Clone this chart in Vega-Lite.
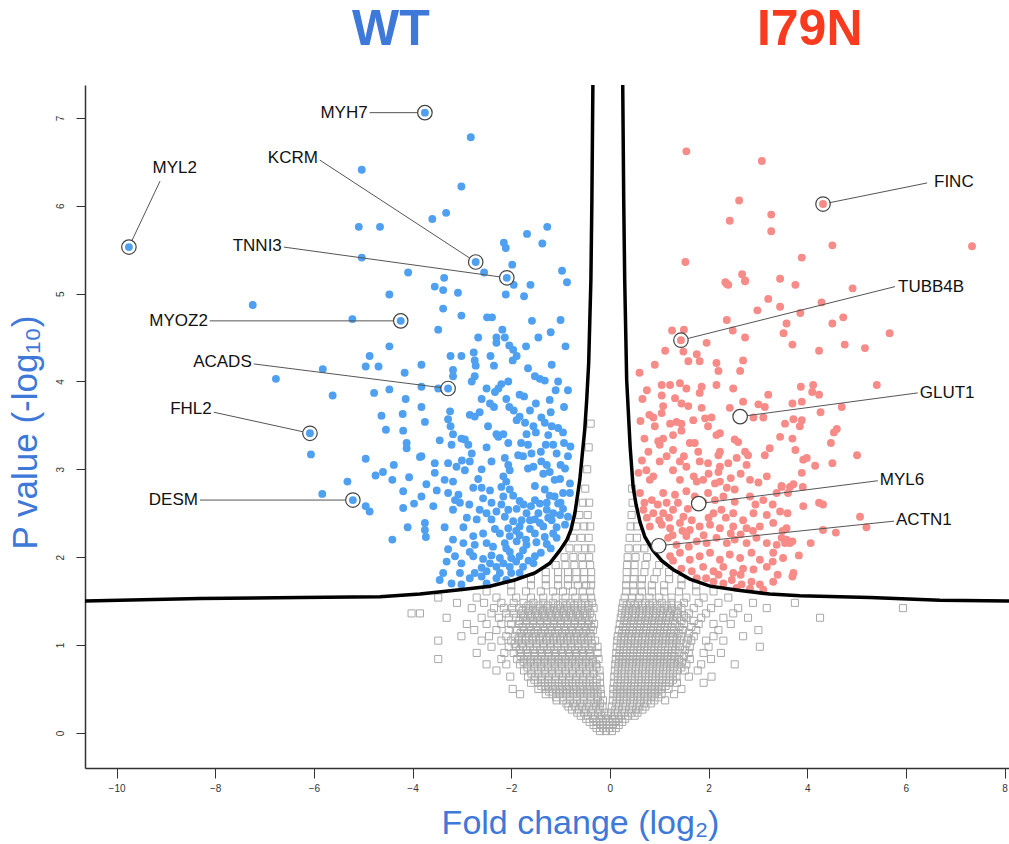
{
"$schema":"https://vega.github.io/schema/vega-lite/v6.json",
"width":924,"height":683,
"autosize":{"type":"none"},
"padding":{"left":85,"top":85,"right":0,"bottom":76},
"background":"white",
"config":{"view":{"stroke":null},"font":"Liberation Sans"},
"datasets":{
"ns":[
{"x":-0.2,"y":0.02},{"x":-0.08,"y":0.02},{"x":0.04,"y":0.02},
{"x":-0.33,"y":0.09},{"x":-0.2,"y":0.09},{"x":-0.07,"y":0.09},{"x":0.06,"y":0.09},{"x":0.18,"y":0.09},
{"x":-0.48,"y":0.16},{"x":-0.34,"y":0.16},{"x":-0.21,"y":0.16},{"x":-0.08,"y":0.16},{"x":0.05,"y":0.16},{"x":0.18,"y":0.16},{"x":0.31,"y":0.16},
{"x":-0.66,"y":0.23},{"x":-0.52,"y":0.23},{"x":-0.38,"y":0.23},{"x":-0.24,"y":0.23},{"x":-0.11,"y":0.23},{"x":0.02,"y":0.23},{"x":0.16,"y":0.23},{"x":0.3,"y":0.23},{"x":0.44,"y":0.23},{"x":0.56,"y":0.23},
{"x":-0.84,"y":0.3},{"x":-0.7,"y":0.3},{"x":-0.56,"y":0.3},{"x":-0.42,"y":0.3},{"x":-0.28,"y":0.3},{"x":-0.15,"y":0.3},{"x":0.04,"y":0.3},{"x":0.18,"y":0.3},{"x":0.32,"y":0.3},{"x":0.46,"y":0.3},{"x":0.6,"y":0.3},{"x":0.72,"y":0.3},
{"x":-1.08,"y":0.37},{"x":-0.95,"y":0.37},{"x":-0.81,"y":0.37},{"x":-0.67,"y":0.37},{"x":-0.53,"y":0.37},{"x":-0.39,"y":0.37},{"x":-0.25,"y":0.37},{"x":-0.14,"y":0.37},{"x":0.06,"y":0.37},{"x":0.2,"y":0.37},{"x":0.34,"y":0.37},{"x":0.48,"y":0.37},{"x":0.62,"y":0.37},{"x":0.76,"y":0.37},{"x":0.9,"y":0.37},{"x":1.12,"y":0.37},
{"x":-1.82,"y":0.44},{"x":-1.3,"y":0.44},{"x":-1.16,"y":0.44},{"x":-1.02,"y":0.44},{"x":-0.88,"y":0.44},{"x":-0.74,"y":0.44},{"x":-0.6,"y":0.44},{"x":-0.46,"y":0.44},{"x":-0.32,"y":0.44},{"x":-0.18,"y":0.44},{"x":0.07,"y":0.44},{"x":0.21,"y":0.44},{"x":0.35,"y":0.44},{"x":0.49,"y":0.44},{"x":0.63,"y":0.44},{"x":0.77,"y":0.44},{"x":0.91,"y":0.44},{"x":1.05,"y":0.44},{"x":1.3,"y":0.44},
{"x":-1.97,"y":0.5},{"x":-1.45,"y":0.5},{"x":-1.3,"y":0.5},{"x":-1.16,"y":0.5},{"x":-1.02,"y":0.5},{"x":-0.88,"y":0.5},{"x":-0.74,"y":0.5},{"x":-0.6,"y":0.5},{"x":-0.46,"y":0.5},{"x":-0.32,"y":0.5},{"x":-0.19,"y":0.5},{"x":0.07,"y":0.5},{"x":0.21,"y":0.5},{"x":0.35,"y":0.5},{"x":0.49,"y":0.5},{"x":0.63,"y":0.5},{"x":0.77,"y":0.5},{"x":0.91,"y":0.5},{"x":1.05,"y":0.5},{"x":1.19,"y":0.5},{"x":1.45,"y":0.5},
{"x":-1.6,"y":0.57},{"x":-1.46,"y":0.57},{"x":-1.32,"y":0.57},{"x":-1.18,"y":0.57},{"x":-1.04,"y":0.57},{"x":-0.9,"y":0.57},{"x":-0.76,"y":0.57},{"x":-0.62,"y":0.57},{"x":-0.48,"y":0.57},{"x":-0.34,"y":0.57},{"x":-0.2,"y":0.57},{"x":0.08,"y":0.57},{"x":0.22,"y":0.57},{"x":0.36,"y":0.57},{"x":0.5,"y":0.57},{"x":0.64,"y":0.57},{"x":0.78,"y":0.57},{"x":0.92,"y":0.57},{"x":1.06,"y":0.57},{"x":1.2,"y":0.57},{"x":1.36,"y":0.57},{"x":1.9,"y":0.57},
{"x":-2.02,"y":0.64},{"x":-1.66,"y":0.64},{"x":-1.52,"y":0.64},{"x":-1.38,"y":0.64},{"x":-1.24,"y":0.64},{"x":-1.1,"y":0.64},{"x":-0.96,"y":0.64},{"x":-0.82,"y":0.64},{"x":-0.68,"y":0.64},{"x":-0.54,"y":0.64},{"x":-0.4,"y":0.64},{"x":-0.2,"y":0.64},{"x":0.09,"y":0.64},{"x":0.23,"y":0.64},{"x":0.37,"y":0.64},{"x":0.51,"y":0.64},{"x":0.65,"y":0.64},{"x":0.79,"y":0.64},{"x":0.93,"y":0.64},{"x":1.07,"y":0.64},{"x":1.21,"y":0.64},{"x":1.35,"y":0.64},{"x":1.6,"y":0.64},{"x":2.06,"y":0.64},
{"x":-2.3,"y":0.71},{"x":-1.74,"y":0.71},{"x":-1.6,"y":0.71},{"x":-1.46,"y":0.71},{"x":-1.32,"y":0.71},{"x":-1.18,"y":0.71},{"x":-1.04,"y":0.71},{"x":-0.9,"y":0.71},{"x":-0.76,"y":0.71},{"x":-0.62,"y":0.71},{"x":-0.48,"y":0.71},{"x":-0.34,"y":0.71},{"x":-0.21,"y":0.71},{"x":0.1,"y":0.71},{"x":0.24,"y":0.71},{"x":0.38,"y":0.71},{"x":0.52,"y":0.71},{"x":0.66,"y":0.71},{"x":0.8,"y":0.71},{"x":0.94,"y":0.71},{"x":1.08,"y":0.71},{"x":1.22,"y":0.71},{"x":1.36,"y":0.71},{"x":1.52,"y":0.71},{"x":1.78,"y":0.71},
{"x":-2.5,"y":0.78},{"x":-2.1,"y":0.78},{"x":-1.82,"y":0.78},{"x":-1.68,"y":0.78},{"x":-1.54,"y":0.78},{"x":-1.4,"y":0.78},{"x":-1.26,"y":0.78},{"x":-1.12,"y":0.78},{"x":-0.98,"y":0.78},{"x":-0.84,"y":0.78},{"x":-0.7,"y":0.78},{"x":-0.56,"y":0.78},{"x":-0.42,"y":0.78},{"x":-0.28,"y":0.78},{"x":0.11,"y":0.78},{"x":0.25,"y":0.78},{"x":0.39,"y":0.78},{"x":0.53,"y":0.78},{"x":0.67,"y":0.78},{"x":0.81,"y":0.78},{"x":0.95,"y":0.78},{"x":1.09,"y":0.78},{"x":1.23,"y":0.78},{"x":1.37,"y":0.78},{"x":1.55,"y":0.78},{"x":1.85,"y":0.78},{"x":2.53,"y":0.78},
{"x":-3.48,"y":0.84},{"x":-2.2,"y":0.84},{"x":-1.88,"y":0.84},{"x":-1.74,"y":0.84},{"x":-1.6,"y":0.84},{"x":-1.46,"y":0.84},{"x":-1.32,"y":0.84},{"x":-1.18,"y":0.84},{"x":-1.04,"y":0.84},{"x":-0.9,"y":0.84},{"x":-0.76,"y":0.84},{"x":-0.62,"y":0.84},{"x":-0.48,"y":0.84},{"x":-0.34,"y":0.84},{"x":-0.23,"y":0.84},{"x":0.12,"y":0.84},{"x":0.26,"y":0.84},{"x":0.4,"y":0.84},{"x":0.54,"y":0.84},{"x":0.68,"y":0.84},{"x":0.82,"y":0.84},{"x":0.96,"y":0.84},{"x":1.1,"y":0.84},{"x":1.24,"y":0.84},{"x":1.4,"y":0.84},{"x":1.62,"y":0.84},{"x":2.05,"y":0.84},
{"x":-2.7,"y":0.91},{"x":-2.14,"y":0.91},{"x":-1.95,"y":0.91},{"x":-1.8,"y":0.91},{"x":-1.66,"y":0.91},{"x":-1.52,"y":0.91},{"x":-1.38,"y":0.91},{"x":-1.24,"y":0.91},{"x":-1.1,"y":0.91},{"x":-0.96,"y":0.91},{"x":-0.82,"y":0.91},{"x":-0.68,"y":0.91},{"x":-0.54,"y":0.91},{"x":-0.4,"y":0.91},{"x":-0.25,"y":0.91},{"x":0.13,"y":0.91},{"x":0.27,"y":0.91},{"x":0.41,"y":0.91},{"x":0.55,"y":0.91},{"x":0.69,"y":0.91},{"x":0.83,"y":0.91},{"x":0.97,"y":0.91},{"x":1.11,"y":0.91},{"x":1.25,"y":0.91},{"x":1.41,"y":0.91},{"x":1.6,"y":0.91},{"x":1.9,"y":0.91},{"x":2.25,"y":0.91},
{"x":-2.4,"y":0.98},{"x":-2.05,"y":0.98},{"x":-1.9,"y":0.98},{"x":-1.76,"y":0.98},{"x":-1.62,"y":0.98},{"x":-1.48,"y":0.98},{"x":-1.34,"y":0.98},{"x":-1.2,"y":0.98},{"x":-1.06,"y":0.98},{"x":-0.92,"y":0.98},{"x":-0.78,"y":0.98},{"x":-0.64,"y":0.98},{"x":-0.5,"y":0.98},{"x":-0.36,"y":0.98},{"x":-0.25,"y":0.98},{"x":0.14,"y":0.98},{"x":0.28,"y":0.98},{"x":0.42,"y":0.98},{"x":0.56,"y":0.98},{"x":0.7,"y":0.98},{"x":0.84,"y":0.98},{"x":0.98,"y":0.98},{"x":1.12,"y":0.98},{"x":1.26,"y":0.98},{"x":1.42,"y":0.98},{"x":1.62,"y":0.98},{"x":2.0,"y":0.98},{"x":3.04,"y":0.98},
{"x":-3.48,"y":1.05},{"x":-2.6,"y":1.05},{"x":-2.2,"y":1.05},{"x":-2.0,"y":1.05},{"x":-1.85,"y":1.05},{"x":-1.7,"y":1.05},{"x":-1.56,"y":1.05},{"x":-1.42,"y":1.05},{"x":-1.28,"y":1.05},{"x":-1.14,"y":1.05},{"x":-1.0,"y":1.05},{"x":-0.86,"y":1.05},{"x":-0.72,"y":1.05},{"x":-0.58,"y":1.05},{"x":-0.44,"y":1.05},{"x":-0.3,"y":1.05},{"x":0.15,"y":1.05},{"x":0.29,"y":1.05},{"x":0.43,"y":1.05},{"x":0.57,"y":1.05},{"x":0.71,"y":1.05},{"x":0.85,"y":1.05},{"x":0.99,"y":1.05},{"x":1.13,"y":1.05},{"x":1.27,"y":1.05},{"x":1.43,"y":1.05},{"x":1.65,"y":1.05},{"x":1.95,"y":1.05},{"x":2.3,"y":1.05},
{"x":-3.01,"y":1.1},{"x":-2.45,"y":1.1},{"x":-2.1,"y":1.1},{"x":-1.92,"y":1.1},{"x":-1.78,"y":1.1},{"x":-1.64,"y":1.1},{"x":-1.5,"y":1.1},{"x":-1.36,"y":1.1},{"x":-1.22,"y":1.1},{"x":-1.08,"y":1.1},{"x":-0.94,"y":1.1},{"x":-0.8,"y":1.1},{"x":-0.66,"y":1.1},{"x":-0.52,"y":1.1},{"x":-0.38,"y":1.1},{"x":0.16,"y":1.1},{"x":0.3,"y":1.1},{"x":0.44,"y":1.1},{"x":0.58,"y":1.1},{"x":0.72,"y":1.1},{"x":0.86,"y":1.1},{"x":1.0,"y":1.1},{"x":1.14,"y":1.1},{"x":1.28,"y":1.1},{"x":1.45,"y":1.1},{"x":1.7,"y":1.1},{"x":2.1,"y":1.1},{"x":2.7,"y":1.1},
{"x":-2.75,"y":1.17},{"x":-2.3,"y":1.17},{"x":-2.05,"y":1.17},{"x":-1.88,"y":1.17},{"x":-1.74,"y":1.17},{"x":-1.6,"y":1.17},{"x":-1.46,"y":1.17},{"x":-1.32,"y":1.17},{"x":-1.18,"y":1.17},{"x":-1.04,"y":1.17},{"x":-0.9,"y":1.17},{"x":-0.76,"y":1.17},{"x":-0.62,"y":1.17},{"x":-0.48,"y":1.17},{"x":-0.34,"y":1.17},{"x":0.18,"y":1.17},{"x":0.32,"y":1.17},{"x":0.46,"y":1.17},{"x":0.6,"y":1.17},{"x":0.74,"y":1.17},{"x":0.88,"y":1.17},{"x":1.02,"y":1.17},{"x":1.16,"y":1.17},{"x":1.3,"y":1.17},{"x":1.48,"y":1.17},{"x":1.75,"y":1.17},{"x":2.2,"y":1.17},{"x":3.01,"y":1.17},
{"x":-2.9,"y":1.24},{"x":-2.5,"y":1.24},{"x":-2.2,"y":1.24},{"x":-2.0,"y":1.24},{"x":-1.84,"y":1.24},{"x":-1.7,"y":1.24},{"x":-1.56,"y":1.24},{"x":-1.42,"y":1.24},{"x":-1.28,"y":1.24},{"x":-1.14,"y":1.24},{"x":-1.0,"y":1.24},{"x":-0.86,"y":1.24},{"x":-0.72,"y":1.24},{"x":-0.58,"y":1.24},{"x":-0.44,"y":1.24},{"x":-0.32,"y":1.24},{"x":0.2,"y":1.24},{"x":0.34,"y":1.24},{"x":0.48,"y":1.24},{"x":0.62,"y":1.24},{"x":0.76,"y":1.24},{"x":0.9,"y":1.24},{"x":1.04,"y":1.24},{"x":1.18,"y":1.24},{"x":1.32,"y":1.24},{"x":1.5,"y":1.24},{"x":1.8,"y":1.24},{"x":2.1,"y":1.24},{"x":2.45,"y":1.24},
{"x":-3.31,"y":1.31},{"x":-2.6,"y":1.31},{"x":-2.25,"y":1.31},{"x":-2.05,"y":1.31},{"x":-1.9,"y":1.31},{"x":-1.76,"y":1.31},{"x":-1.62,"y":1.31},{"x":-1.48,"y":1.31},{"x":-1.34,"y":1.31},{"x":-1.2,"y":1.31},{"x":-1.06,"y":1.31},{"x":-0.92,"y":1.31},{"x":-0.78,"y":1.31},{"x":-0.64,"y":1.31},{"x":-0.5,"y":1.31},{"x":-0.36,"y":1.31},{"x":0.22,"y":1.31},{"x":0.36,"y":1.31},{"x":0.5,"y":1.31},{"x":0.64,"y":1.31},{"x":0.78,"y":1.31},{"x":0.92,"y":1.31},{"x":1.06,"y":1.31},{"x":1.2,"y":1.31},{"x":1.36,"y":1.31},{"x":1.55,"y":1.31},{"x":1.85,"y":1.31},{"x":2.3,"y":1.31},{"x":2.8,"y":1.31},{"x":4.26,"y":1.31},
{"x":-4.02,"y":1.36},{"x":-3.85,"y":1.36},{"x":-2.4,"y":1.36},{"x":-2.1,"y":1.36},{"x":-1.95,"y":1.36},{"x":-1.8,"y":1.36},{"x":-1.66,"y":1.36},{"x":-1.52,"y":1.36},{"x":-1.38,"y":1.36},{"x":-1.24,"y":1.36},{"x":-1.1,"y":1.36},{"x":-0.96,"y":1.36},{"x":-0.82,"y":1.36},{"x":-0.68,"y":1.36},{"x":-0.54,"y":1.36},{"x":-0.4,"y":1.36},{"x":0.24,"y":1.36},{"x":0.38,"y":1.36},{"x":0.52,"y":1.36},{"x":0.66,"y":1.36},{"x":0.8,"y":1.36},{"x":0.94,"y":1.36},{"x":1.08,"y":1.36},{"x":1.22,"y":1.36},{"x":1.38,"y":1.36},{"x":1.6,"y":1.36},{"x":1.95,"y":1.36},{"x":2.5,"y":1.36},
{"x":-2.8,"y":1.42},{"x":-2.35,"y":1.42},{"x":-2.15,"y":1.42},{"x":-1.98,"y":1.42},{"x":-1.84,"y":1.42},{"x":-1.7,"y":1.42},{"x":-1.56,"y":1.42},{"x":-1.42,"y":1.42},{"x":-1.28,"y":1.42},{"x":-1.14,"y":1.42},{"x":-1.0,"y":1.42},{"x":-0.86,"y":1.42},{"x":-0.72,"y":1.42},{"x":-0.58,"y":1.42},{"x":-0.44,"y":1.42},{"x":-0.33,"y":1.42},{"x":0.25,"y":1.42},{"x":0.39,"y":1.42},{"x":0.53,"y":1.42},{"x":0.67,"y":1.42},{"x":0.81,"y":1.42},{"x":0.95,"y":1.42},{"x":1.1,"y":1.42},{"x":1.26,"y":1.42},{"x":1.45,"y":1.42},{"x":1.7,"y":1.42},{"x":2.05,"y":1.42},{"x":2.6,"y":1.42},{"x":3.18,"y":1.42},{"x":5.94,"y":1.42},
{"x":-3.1,"y":1.48},{"x":-2.55,"y":1.48},{"x":-2.2,"y":1.48},{"x":-1.95,"y":1.48},{"x":-1.75,"y":1.48},{"x":-1.55,"y":1.48},{"x":-1.35,"y":1.48},{"x":-1.15,"y":1.48},{"x":-0.95,"y":1.48},{"x":-0.8,"y":1.48},{"x":-0.65,"y":1.48},{"x":-0.5,"y":1.48},{"x":-0.36,"y":1.48},{"x":0.27,"y":1.48},{"x":0.42,"y":1.48},{"x":0.57,"y":1.48},{"x":0.72,"y":1.48},{"x":0.87,"y":1.48},{"x":1.05,"y":1.48},{"x":1.25,"y":1.48},{"x":1.5,"y":1.48},{"x":1.8,"y":1.48},{"x":2.2,"y":1.48},{"x":2.9,"y":1.48},{"x":3.75,"y":1.48},
{"x":-3.48,"y":1.54},{"x":-2.7,"y":1.54},{"x":-2.3,"y":1.54},{"x":-1.9,"y":1.54},{"x":-1.6,"y":1.54},{"x":-1.35,"y":1.54},{"x":-1.1,"y":1.54},{"x":-0.9,"y":1.54},{"x":-0.7,"y":1.54},{"x":-0.52,"y":1.54},{"x":-0.38,"y":1.54},{"x":0.3,"y":1.54},{"x":0.45,"y":1.54},{"x":0.6,"y":1.54},{"x":0.8,"y":1.54},{"x":1.0,"y":1.54},{"x":1.25,"y":1.54},{"x":1.55,"y":1.54},{"x":1.9,"y":1.54},{"x":2.4,"y":1.54},
{"x":-2.5,"y":1.61},{"x":-2.0,"y":1.61},{"x":-1.7,"y":1.61},{"x":-1.4,"y":1.61},{"x":-1.15,"y":1.61},{"x":-0.95,"y":1.61},{"x":-0.75,"y":1.61},{"x":-0.55,"y":1.61},{"x":-0.4,"y":1.61},{"x":0.33,"y":1.61},{"x":0.48,"y":1.61},{"x":0.65,"y":1.61},{"x":0.85,"y":1.61},{"x":1.1,"y":1.61},{"x":1.4,"y":1.61},{"x":1.75,"y":1.61},{"x":2.1,"y":1.61},
{"x":-2.0,"y":1.68},{"x":-1.6,"y":1.68},{"x":-1.3,"y":1.68},{"x":-1.05,"y":1.68},{"x":-0.85,"y":1.68},{"x":-0.65,"y":1.68},{"x":-0.48,"y":1.68},{"x":-0.38,"y":1.68},{"x":0.33,"y":1.68},{"x":0.47,"y":1.68},{"x":0.64,"y":1.68},{"x":0.85,"y":1.68},{"x":1.1,"y":1.68},{"x":1.45,"y":1.68},{"x":1.75,"y":1.68},
{"x":-1.6,"y":1.75},{"x":-1.3,"y":1.75},{"x":-1.05,"y":1.75},{"x":-0.85,"y":1.75},{"x":-0.68,"y":1.75},{"x":-0.52,"y":1.75},{"x":-0.38,"y":1.75},{"x":0.34,"y":1.75},{"x":0.48,"y":1.75},{"x":0.65,"y":1.75},{"x":0.9,"y":1.75},{"x":1.2,"y":1.75},{"x":1.45,"y":1.75},
{"x":-1.3,"y":1.83},{"x":-1.05,"y":1.83},{"x":-0.85,"y":1.83},{"x":-0.68,"y":1.83},{"x":-0.52,"y":1.83},{"x":-0.38,"y":1.83},{"x":0.34,"y":1.83},{"x":0.5,"y":1.83},{"x":0.7,"y":1.83},{"x":0.95,"y":1.83},{"x":1.2,"y":1.83},
{"x":-1.1,"y":1.91},{"x":-0.9,"y":1.91},{"x":-0.72,"y":1.91},{"x":-0.55,"y":1.91},{"x":-0.4,"y":1.91},{"x":0.35,"y":1.91},{"x":0.5,"y":1.91},{"x":0.72,"y":1.91},{"x":1.0,"y":1.91},
{"x":-0.92,"y":2.0},{"x":-0.74,"y":2.0},{"x":-0.57,"y":2.0},{"x":-0.42,"y":2.0},{"x":0.36,"y":2.0},{"x":0.52,"y":2.0},{"x":0.75,"y":2.0},
{"x":-0.82,"y":2.1},{"x":-0.65,"y":2.1},{"x":-0.5,"y":2.1},{"x":-0.38,"y":2.1},{"x":0.38,"y":2.1},{"x":0.55,"y":2.1},{"x":0.7,"y":2.1},
{"x":-0.75,"y":2.22},{"x":-0.58,"y":2.22},{"x":-0.43,"y":2.22},{"x":0.4,"y":2.22},{"x":0.55,"y":2.22},
{"x":-0.68,"y":2.35},{"x":-0.52,"y":2.35},{"x":-0.4,"y":2.35},{"x":0.42,"y":2.35},{"x":0.55,"y":2.35},
{"x":-0.62,"y":2.48},{"x":-0.45,"y":2.48},{"x":0.44,"y":2.48},
{"x":-0.55,"y":2.62},{"x":-0.42,"y":2.62},{"x":0.46,"y":2.62},
{"x":-0.5,"y":2.78},{"x":0.45,"y":2.78},
{"x":-0.46,"y":3.0},{"x":-0.43,"y":3.25},{"x":-0.39,"y":3.52},
{"x":-0.27,"y":0.055},{"x":-0.14,"y":0.055},{"x":-0.01,"y":0.055},{"x":0.12,"y":0.055},
{"x":-0.41,"y":0.125},{"x":-0.27,"y":0.125},{"x":-0.14,"y":0.125},{"x":-0.01,"y":0.125},{"x":0.12,"y":0.125},{"x":0.25,"y":0.125},
{"x":-0.59,"y":0.195},{"x":-0.45,"y":0.195},{"x":-0.31,"y":0.195},{"x":-0.17,"y":0.195},{"x":-0.04,"y":0.195},{"x":0.09,"y":0.195},{"x":0.23,"y":0.195},{"x":0.37,"y":0.195},{"x":0.5,"y":0.195},
{"x":-0.77,"y":0.265},{"x":-0.63,"y":0.265},{"x":-0.49,"y":0.265},{"x":-0.35,"y":0.265},{"x":-0.21,"y":0.265},{"x":0.11,"y":0.265},{"x":0.25,"y":0.265},{"x":0.39,"y":0.265},{"x":0.53,"y":0.265},{"x":0.66,"y":0.265},
{"x":-0.88,"y":0.335},{"x":-0.74,"y":0.335},{"x":-0.6,"y":0.335},{"x":-0.46,"y":0.335},{"x":-0.32,"y":0.335},{"x":-0.2,"y":0.335},{"x":0.13,"y":0.335},{"x":0.27,"y":0.335},{"x":0.41,"y":0.335},{"x":0.55,"y":0.335},{"x":0.69,"y":0.335},{"x":0.83,"y":0.335},
{"x":-1.09,"y":0.405},{"x":-0.95,"y":0.405},{"x":-0.81,"y":0.405},{"x":-0.67,"y":0.405},{"x":-0.53,"y":0.405},{"x":-0.39,"y":0.405},{"x":-0.25,"y":0.405},{"x":0.14,"y":0.405},{"x":0.28,"y":0.405},{"x":0.42,"y":0.405},{"x":0.56,"y":0.405},{"x":0.7,"y":0.405},{"x":0.84,"y":0.405},{"x":0.98,"y":0.405},
{"x":-1.23,"y":0.47},{"x":-1.09,"y":0.47},{"x":-0.95,"y":0.47},{"x":-0.81,"y":0.47},{"x":-0.67,"y":0.47},{"x":-0.53,"y":0.47},{"x":-0.39,"y":0.47},{"x":-0.25,"y":0.47},{"x":0.14,"y":0.47},{"x":0.28,"y":0.47},{"x":0.42,"y":0.47},{"x":0.56,"y":0.47},{"x":0.7,"y":0.47},{"x":0.84,"y":0.47},{"x":0.98,"y":0.47},
{"x":-1.39,"y":0.535},{"x":-1.25,"y":0.535},{"x":-1.11,"y":0.535},{"x":-0.97,"y":0.535},{"x":-0.83,"y":0.535},{"x":-0.69,"y":0.535},{"x":-0.55,"y":0.535},{"x":-0.41,"y":0.535},{"x":-0.27,"y":0.535},{"x":0.15,"y":0.535},{"x":0.29,"y":0.535},{"x":0.43,"y":0.535},{"x":0.57,"y":0.535},{"x":0.71,"y":0.535},{"x":0.85,"y":0.535},{"x":0.99,"y":0.535},{"x":1.13,"y":0.535},
{"x":-1.53,"y":0.605},{"x":-1.39,"y":0.605},{"x":-1.25,"y":0.605},{"x":-1.11,"y":0.605},{"x":-0.97,"y":0.605},{"x":-0.83,"y":0.605},{"x":-0.69,"y":0.605},{"x":-0.55,"y":0.605},{"x":-0.41,"y":0.605},{"x":-0.27,"y":0.605},{"x":0.16,"y":0.605},{"x":0.3,"y":0.605},{"x":0.44,"y":0.605},{"x":0.58,"y":0.605},{"x":0.72,"y":0.605},{"x":0.86,"y":0.605},{"x":1.0,"y":0.605},{"x":1.14,"y":0.605},{"x":1.28,"y":0.605},
{"x":-1.59,"y":0.675},{"x":-1.45,"y":0.675},{"x":-1.31,"y":0.675},{"x":-1.17,"y":0.675},{"x":-1.03,"y":0.675},{"x":-0.89,"y":0.675},{"x":-0.75,"y":0.675},{"x":-0.61,"y":0.675},{"x":-0.47,"y":0.675},{"x":-0.33,"y":0.675},{"x":0.16,"y":0.675},{"x":0.3,"y":0.675},{"x":0.44,"y":0.675},{"x":0.58,"y":0.675},{"x":0.72,"y":0.675},{"x":0.86,"y":0.675},{"x":1.0,"y":0.675},{"x":1.14,"y":0.675},{"x":1.28,"y":0.675},
{"x":-1.67,"y":0.745},{"x":-1.53,"y":0.745},{"x":-1.39,"y":0.745},{"x":-1.25,"y":0.745},{"x":-1.11,"y":0.745},{"x":-0.97,"y":0.745},{"x":-0.83,"y":0.745},{"x":-0.69,"y":0.745},{"x":-0.55,"y":0.745},{"x":-0.41,"y":0.745},{"x":-0.27,"y":0.745},{"x":0.17,"y":0.745},{"x":0.31,"y":0.745},{"x":0.45,"y":0.745},{"x":0.59,"y":0.745},{"x":0.73,"y":0.745},{"x":0.87,"y":0.745},{"x":1.01,"y":0.745},{"x":1.15,"y":0.745},{"x":1.29,"y":0.745},{"x":1.45,"y":0.745},
{"x":-1.75,"y":0.81},{"x":-1.61,"y":0.81},{"x":-1.47,"y":0.81},{"x":-1.33,"y":0.81},{"x":-1.19,"y":0.81},{"x":-1.05,"y":0.81},{"x":-0.91,"y":0.81},{"x":-0.77,"y":0.81},{"x":-0.63,"y":0.81},{"x":-0.49,"y":0.81},{"x":-0.35,"y":0.81},{"x":0.18,"y":0.81},{"x":0.32,"y":0.81},{"x":0.46,"y":0.81},{"x":0.6,"y":0.81},{"x":0.74,"y":0.81},{"x":0.88,"y":0.81},{"x":1.02,"y":0.81},{"x":1.16,"y":0.81},{"x":1.3,"y":0.81},{"x":1.46,"y":0.81},
{"x":-1.81,"y":0.875},{"x":-1.67,"y":0.875},{"x":-1.53,"y":0.875},{"x":-1.39,"y":0.875},{"x":-1.25,"y":0.875},{"x":-1.11,"y":0.875},{"x":-0.97,"y":0.875},{"x":-0.83,"y":0.875},{"x":-0.69,"y":0.875},{"x":-0.55,"y":0.875},{"x":-0.41,"y":0.875},{"x":0.19,"y":0.875},{"x":0.33,"y":0.875},{"x":0.47,"y":0.875},{"x":0.61,"y":0.875},{"x":0.75,"y":0.875},{"x":0.89,"y":0.875},{"x":1.03,"y":0.875},{"x":1.17,"y":0.875},{"x":1.31,"y":0.875},{"x":1.5,"y":0.875},
{"x":-1.83,"y":0.945},{"x":-1.69,"y":0.945},{"x":-1.55,"y":0.945},{"x":-1.41,"y":0.945},{"x":-1.27,"y":0.945},{"x":-1.13,"y":0.945},{"x":-0.99,"y":0.945},{"x":-0.85,"y":0.945},{"x":-0.71,"y":0.945},{"x":-0.57,"y":0.945},{"x":-0.43,"y":0.945},{"x":0.2,"y":0.945},{"x":0.34,"y":0.945},{"x":0.48,"y":0.945},{"x":0.62,"y":0.945},{"x":0.76,"y":0.945},{"x":0.9,"y":0.945},{"x":1.04,"y":0.945},{"x":1.18,"y":0.945},{"x":1.33,"y":0.945},{"x":1.52,"y":0.945},
{"x":-1.93,"y":1.015},{"x":-1.79,"y":1.015},{"x":-1.63,"y":1.015},{"x":-1.49,"y":1.015},{"x":-1.35,"y":1.015},{"x":-1.21,"y":1.015},{"x":-1.07,"y":1.015},{"x":-0.93,"y":1.015},{"x":-0.79,"y":1.015},{"x":-0.65,"y":1.015},{"x":-0.51,"y":1.015},{"x":-0.37,"y":1.015},{"x":0.22,"y":1.015},{"x":0.36,"y":1.015},{"x":0.5,"y":1.015},{"x":0.64,"y":1.015},{"x":0.78,"y":1.015},{"x":0.92,"y":1.015},{"x":1.06,"y":1.015},{"x":1.2,"y":1.015},{"x":1.35,"y":1.015},{"x":1.55,"y":1.015},
{"x":-1.85,"y":1.075},{"x":-1.71,"y":1.075},{"x":-1.57,"y":1.075},{"x":-1.43,"y":1.075},{"x":-1.29,"y":1.075},{"x":-1.15,"y":1.075},{"x":-1.01,"y":1.075},{"x":-0.87,"y":1.075},{"x":-0.73,"y":1.075},{"x":-0.59,"y":1.075},{"x":-0.45,"y":1.075},{"x":0.23,"y":1.075},{"x":0.37,"y":1.075},{"x":0.51,"y":1.075},{"x":0.65,"y":1.075},{"x":0.79,"y":1.075},{"x":0.93,"y":1.075},{"x":1.07,"y":1.075},{"x":1.21,"y":1.075},{"x":1.36,"y":1.075},{"x":1.58,"y":1.075},
{"x":-1.81,"y":1.135},{"x":-1.67,"y":1.135},{"x":-1.53,"y":1.135},{"x":-1.39,"y":1.135},{"x":-1.25,"y":1.135},{"x":-1.11,"y":1.135},{"x":-0.97,"y":1.135},{"x":-0.83,"y":1.135},{"x":-0.69,"y":1.135},{"x":-0.55,"y":1.135},{"x":-0.41,"y":1.135},{"x":0.25,"y":1.135},{"x":0.39,"y":1.135},{"x":0.53,"y":1.135},{"x":0.67,"y":1.135},{"x":0.81,"y":1.135},{"x":0.95,"y":1.135},{"x":1.09,"y":1.135},{"x":1.23,"y":1.135},{"x":1.39,"y":1.135},{"x":1.6,"y":1.135},
{"x":-1.77,"y":1.205},{"x":-1.63,"y":1.205},{"x":-1.49,"y":1.205},{"x":-1.35,"y":1.205},{"x":-1.21,"y":1.205},{"x":-1.07,"y":1.205},{"x":-0.93,"y":1.205},{"x":-0.79,"y":1.205},{"x":-0.65,"y":1.205},{"x":-0.51,"y":1.205},{"x":-0.38,"y":1.205},{"x":0.27,"y":1.205},{"x":0.41,"y":1.205},{"x":0.55,"y":1.205},{"x":0.69,"y":1.205},{"x":0.83,"y":1.205},{"x":0.97,"y":1.205},{"x":1.11,"y":1.205},{"x":1.25,"y":1.205},{"x":1.41,"y":1.205},{"x":1.65,"y":1.205},
{"x":-1.83,"y":1.275},{"x":-1.69,"y":1.275},{"x":-1.55,"y":1.275},{"x":-1.41,"y":1.275},{"x":-1.27,"y":1.275},{"x":-1.13,"y":1.275},{"x":-0.99,"y":1.275},{"x":-0.85,"y":1.275},{"x":-0.71,"y":1.275},{"x":-0.57,"y":1.275},{"x":-0.43,"y":1.275},{"x":0.29,"y":1.275},{"x":0.43,"y":1.275},{"x":0.57,"y":1.275},{"x":0.71,"y":1.275},{"x":0.85,"y":1.275},{"x":0.99,"y":1.275},{"x":1.13,"y":1.275},{"x":1.28,"y":1.275},{"x":1.45,"y":1.275},{"x":1.7,"y":1.275},
{"x":-1.73,"y":1.335},{"x":-1.59,"y":1.335},{"x":-1.45,"y":1.335},{"x":-1.31,"y":1.335},{"x":-1.17,"y":1.335},{"x":-1.03,"y":1.335},{"x":-0.89,"y":1.335},{"x":-0.75,"y":1.335},{"x":-0.61,"y":1.335},{"x":-0.47,"y":1.335},{"x":0.31,"y":1.335},{"x":0.45,"y":1.335},{"x":0.59,"y":1.335},{"x":0.73,"y":1.335},{"x":0.87,"y":1.335},{"x":1.01,"y":1.335},{"x":1.15,"y":1.335},{"x":1.3,"y":1.335},{"x":1.5,"y":1.335},
{"x":-1.77,"y":1.39},{"x":-1.63,"y":1.39},{"x":-1.49,"y":1.39},{"x":-1.35,"y":1.39},{"x":-1.21,"y":1.39},{"x":-1.07,"y":1.39},{"x":-0.93,"y":1.39},{"x":-0.79,"y":1.39},{"x":-0.65,"y":1.39},{"x":-0.51,"y":1.39},{"x":0.32,"y":1.39},{"x":0.46,"y":1.39},{"x":0.6,"y":1.39},{"x":0.74,"y":1.39},{"x":0.88,"y":1.39},{"x":1.02,"y":1.39},{"x":1.18,"y":1.39},{"x":1.35,"y":1.39},
{"x":-1.65,"y":1.45},{"x":-1.45,"y":1.45},{"x":-1.25,"y":1.45},{"x":-1.05,"y":1.45},{"x":-0.88,"y":1.45},{"x":-0.72,"y":1.45},{"x":-0.58,"y":1.45},{"x":-0.43,"y":1.45},{"x":0.34,"y":1.45},{"x":0.5,"y":1.45},{"x":0.65,"y":1.45},{"x":0.8,"y":1.45},{"x":0.96,"y":1.45},{"x":1.15,"y":1.45},{"x":1.38,"y":1.45}
],
"wt":[
{"x":-2.82,"y":6.78},{"x":-5.03,"y":6.41},{"x":-3.01,"y":6.22},{"x":-3.32,"y":5.92},{"x":-3.6,"y":5.85},{"x":-5.09,"y":5.76},{"x":-4.66,"y":5.76},{"x":-1.27,"y":5.76},{"x":-1.68,"y":5.68},{"x":-1.37,"y":5.57},{"x":-2.15,"y":5.58},{"x":-2.11,"y":5.52},{"x":-5.03,"y":5.41},{"x":-1.98,"y":5.33},{"x":-0.97,"y":5.26},{"x":-0.87,"y":5.13},{"x":-4.09,"y":5.24},{"x":-2.55,"y":5.24},{"x":-3.36,"y":5.18},{"x":-1.95,"y":5.1},{"x":-1.61,"y":5.1},{"x":-3.55,"y":5.08},{"x":-3.38,"y":5.04},{"x":-3.08,"y":5.01},{"x":-4.47,"y":4.99},{"x":-2.11,"y":4.99},{"x":-1.74,"y":4.97},{"x":-7.24,"y":4.87},{"x":-3.38,"y":4.83},{"x":-3.01,"y":4.75},{"x":-2.49,"y":4.73},{"x":-2.39,"y":4.73},{"x":-5.22,"y":4.71},{"x":-1.58,"y":4.69},{"x":-3.48,"y":4.59},{"x":-2.18,"y":4.59},{"x":-1.2,"y":4.56},{"x":-2.3,"y":4.5},{"x":-2.67,"y":4.5},{"x":-2.13,"y":4.5},{"x":-1.45,"y":4.5},
{"x":-4.47,"y":4.4},{"x":-4.87,"y":4.29},{"x":-4.95,"y":4.17},{"x":-4.69,"y":4.17},{"x":-3.82,"y":4.19},{"x":-4.16,"y":4.1},{"x":-5.82,"y":4.14},{"x":-6.77,"y":4.03},{"x":-3.82,"y":3.94},{"x":-5.62,"y":3.84},{"x":-4.78,"y":3.87},{"x":-4.47,"y":3.91},{"x":-4.14,"y":3.8},{"x":-3.82,"y":3.71},{"x":-4.63,"y":3.61},{"x":-4.2,"y":3.63},{"x":-3.75,"y":3.54},{"x":-4.54,"y":3.45},{"x":-4.19,"y":3.44},{"x":-4.12,"y":3.3},{"x":-4.12,"y":3.24},{"x":-6.06,"y":3.17},{"x":-4.95,"y":3.12},{"x":-3.85,"y":3.14},{"x":-4.38,"y":3.05},{"x":-4.6,"y":2.97},{"x":-4.75,"y":2.93},{"x":-4.07,"y":2.91},{"x":-4.41,"y":2.88},{"x":-5.32,"y":2.86},{"x":-4.19,"y":2.75},{"x":-5.83,"y":2.72},{"x":-4.95,"y":2.58},{"x":-4.87,"y":2.52},{"x":-4.19,"y":2.56},{"x":-3.97,"y":2.61},{"x":-3.82,"y":2.69},{"x":-4.1,"y":2.34},{"x":-4.41,"y":2.2},{"x":-3.75,"y":2.39},{"x":-3.75,"y":2.31},{"x":-3.73,"y":2.23},
{"x":-2.3,"y":4.44},{"x":-2.04,"y":4.41},{"x":-1.96,"y":4.36},{"x":-2.76,"y":4.33},{"x":-3.23,"y":4.29},{"x":-3.01,"y":4.29},{"x":-2.42,"y":4.29},{"x":-1.89,"y":4.29},{"x":-1.97,"y":4.24},{"x":-2.74,"y":4.24},{"x":-2.72,"y":4.18},{"x":-2.35,"y":4.18},{"x":-1.66,"y":4.15},{"x":-1.18,"y":4.19},{"x":-3.18,"y":4.13},{"x":-3.18,"y":4.06},{"x":-2.74,"y":4.06},{"x":-2.8,"y":4.0},{"x":-1.52,"y":4.06},{"x":-1.42,"y":4.03},{"x":-1.32,"y":4.01},{"x":-2.06,"y":4.0},{"x":-2.2,"y":3.97},{"x":-2.26,"y":3.92},{"x":-2.33,"y":3.88},{"x":-2.5,"y":3.92},{"x":-3.48,"y":3.92},{"x":-1.1,"y":3.9},{"x":-1.83,"y":3.85},{"x":-1.74,"y":3.83},{"x":-1.22,"y":3.79},{"x":-2.43,"y":3.75},{"x":-2.35,"y":3.71},{"x":-0.93,"y":3.71},{"x":-2.04,"y":3.71},{"x":-1.95,"y":3.67},{"x":-1.62,"y":3.67},{"x":-3.24,"y":3.66},{"x":-2.84,"y":3.62},{"x":-2.64,"y":3.65},{"x":-2.74,"y":3.6},{"x":-1.83,"y":3.6},{"x":-3.28,"y":3.57},{"x":-3.23,"y":3.49},{"x":-1.89,"y":3.56},{"x":-1.39,"y":3.59},{"x":-1.72,"y":3.53},{"x":-1.55,"y":3.49},{"x":-1.32,"y":3.53},{"x":-1.18,"y":3.49},{"x":-2.47,"y":3.49},{"x":-3.18,"y":3.4},{"x":-3.01,"y":3.35},{"x":-1.69,"y":3.4},{"x":-1.5,"y":3.42},{"x":-2.3,"y":3.4},{"x":-2.16,"y":3.4},{"x":-1.25,"y":3.39},{"x":-1.05,"y":3.47},{"x":-2.94,"y":3.34},{"x":-3.45,"y":3.33},{"x":-2.87,"y":3.28},{"x":-3.21,"y":3.28},{"x":-2.26,"y":3.37},{"x":-2.06,"y":3.3},{"x":-1.66,"y":3.28},{"x":-1.3,"y":3.28},{"x":-1.15,"y":3.28},{"x":-0.93,"y":3.3},{"x":-0.8,"y":3.26},{"x":-3.82,"y":3.15},{"x":-2.8,"y":3.18},{"x":-2.84,"y":3.09},{"x":-2.4,"y":3.09},{"x":-2.13,"y":3.13},{"x":-1.86,"y":3.16},{"x":-1.76,"y":3.15},{"x":-1.59,"y":3.18},{"x":-1.39,"y":3.09},{"x":-0.85,"y":3.15},{"x":-1.08,"y":3.18},{"x":-3.55,"y":3.07},{"x":-3.28,"y":3.07},{"x":-3.11,"y":3.03},{"x":-3.55,"y":2.96},{"x":-2.94,"y":2.99},{"x":-2.06,"y":3.05},{"x":-2.03,"y":2.99},{"x":-1.66,"y":3.01},{"x":-1.55,"y":3.03},{"x":-1.28,"y":3.05},{"x":-1.22,"y":2.97},{"x":-0.91,"y":3.01},{"x":-3.72,"y":2.83},{"x":-3.35,"y":2.88},{"x":-3.18,"y":2.86},{"x":-2.67,"y":2.89},{"x":-2.16,"y":2.92},{"x":-2.1,"y":2.86},{"x":-1.12,"y":2.88},{"x":-1.01,"y":2.89},{"x":-0.81,"y":2.84},{"x":-3.51,"y":2.76},{"x":-3.28,"y":2.73},{"x":-3.07,"y":2.71},{"x":-2.77,"y":2.79},{"x":-2.6,"y":2.79},{"x":-2.43,"y":2.76},{"x":-2.2,"y":2.8},{"x":-2.03,"y":2.77},{"x":-1.96,"y":2.7},{"x":-1.52,"y":2.81},{"x":-1.32,"y":2.77},{"x":-1.22,"y":2.7},{"x":-1.12,"y":2.69},{"x":-0.95,"y":2.73},{"x":-0.81,"y":2.73},{"x":-3.14,"y":2.65},{"x":-3.04,"y":2.62},{"x":-2.57,"y":2.67},{"x":-2.16,"y":2.69},{"x":-1.83,"y":2.64},{"x":-1.52,"y":2.65},{"x":-1.42,"y":2.61},{"x":-1.28,"y":2.62},{"x":-1.05,"y":2.61},{"x":-3.58,"y":2.58},{"x":-3.18,"y":2.54},{"x":-2.64,"y":2.54},{"x":-2.5,"y":2.5},{"x":-2.3,"y":2.52},{"x":-2.06,"y":2.54},{"x":-1.89,"y":2.55},{"x":-1.69,"y":2.5},{"x":-1.28,"y":2.54},{"x":-1.15,"y":2.5},{"x":-1.01,"y":2.48},{"x":-0.85,"y":2.46},{"x":-2.7,"y":2.43},{"x":-2.4,"y":2.43},{"x":-2.13,"y":2.46},{"x":-1.96,"y":2.41},{"x":-1.79,"y":2.42},{"x":-1.52,"y":2.43},{"x":-1.42,"y":2.39},{"x":-1.18,"y":2.42},{"x":-3.35,"y":2.34},{"x":-2.97,"y":2.34},{"x":-2.33,"y":2.32},{"x":-2.06,"y":2.33},{"x":-1.83,"y":2.35},{"x":-1.62,"y":2.32},{"x":-1.08,"y":2.34},{"x":-0.91,"y":2.37},{"x":-2.77,"y":2.24},{"x":-2.57,"y":2.27},{"x":-2.23,"y":2.27},{"x":-2.03,"y":2.24},{"x":-1.83,"y":2.25},{"x":-1.52,"y":2.27},{"x":-1.32,"y":2.23},{"x":-1.15,"y":2.27},{"x":-3.18,"y":2.2},{"x":-2.97,"y":2.16},{"x":-2.74,"y":2.14},{"x":-2.5,"y":2.16},{"x":-2.37,"y":2.12},{"x":-2.13,"y":2.16},{"x":-1.89,"y":2.18},{"x":-1.69,"y":2.14},{"x":-1.49,"y":2.17},{"x":-1.28,"y":2.15},{"x":-1.08,"y":2.22},{"x":-3.28,"y":2.09},{"x":-2.84,"y":2.06},{"x":-2.03,"y":2.06},{"x":-1.76,"y":2.08},{"x":-3.14,"y":2.01},{"x":-2.77,"y":2.01},{"x":-2.57,"y":1.98},{"x":-2.23,"y":1.99},{"x":-2.0,"y":1.99},{"x":-1.83,"y":2.01},{"x":-1.52,"y":2.01},{"x":-3.31,"y":1.95},{"x":-3.01,"y":1.93},{"x":-2.43,"y":1.93},{"x":-2.16,"y":1.93},{"x":-2.3,"y":1.89},{"x":-2.03,"y":1.89},{"x":-1.76,"y":1.89},{"x":-1.55,"y":1.93},{"x":-3.38,"y":1.82},{"x":-3.04,"y":1.82},{"x":-2.74,"y":1.82},{"x":-2.5,"y":1.84},{"x":-2.23,"y":1.82},{"x":-2.0,"y":1.82},{"x":-1.83,"y":1.82},{"x":-2.84,"y":1.76},{"x":-2.6,"y":1.78},{"x":-2.3,"y":1.76},{"x":-2.1,"y":1.74},{"x":-3.21,"y":1.7},{"x":-3.01,"y":1.69},{"x":-2.5,"y":1.7},{"x":-3.45,"y":1.74},
{"x":-1.35,"y":2.95},{"x":-1.0,"y":2.62},{"x":-1.45,"y":2.5},{"x":-1.6,"y":2.58},{"x":-1.75,"y":2.6},{"x":-1.9,"y":2.3},{"x":-1.7,"y":2.2},{"x":-1.4,"y":2.05},{"x":-1.2,"y":2.1},{"x":-1.65,"y":1.96},{"x":-1.9,"y":1.95},{"x":-2.1,"y":2.1},{"x":-2.4,"y":2.02},{"x":-2.6,"y":1.88},{"x":-1.35,"y":2.35},{"x":-1.25,"y":2.45},{"x":-1.62,"y":2.42},{"x":-0.95,"y":2.55},{"x":-2.2,"y":2.6},{"x":-2.4,"y":2.62},{"x":-2.9,"y":2.45},{"x":-2.85,"y":2.6},{"x":-1.0,"y":3.05},{"x":-0.95,"y":3.42},{"x":-1.4,"y":3.2},{"x":-1.8,"y":3.3},{"x":-2.6,"y":3.0},{"x":-2.5,"y":3.25},{"x":-3.0,"y":3.1},{"x":-1.2,"y":3.65},{"x":-1.5,"y":3.75},{"x":-2.1,"y":3.8},{"x":-2.6,"y":3.8},{"x":-1.05,"y":4.0},{"x":-0.9,"y":4.4},{"x":-1.7,"y":4.4},{"x":-1.0,"y":4.7},{"x":-0.85,"y":3.9}
],
"mut":[
{"x":1.55,"y":6.62},{"x":3.08,"y":6.51},{"x":2.62,"y":6.06},{"x":2.43,"y":5.83},{"x":3.27,"y":5.9},{"x":3.27,"y":5.71},{"x":4.51,"y":5.55},{"x":7.34,"y":5.54},{"x":3.89,"y":5.41},{"x":1.53,"y":5.36},{"x":2.68,"y":5.22},{"x":2.74,"y":5.15},{"x":2.34,"y":5.13},{"x":2.4,"y":5.1},{"x":3.45,"y":5.17},{"x":3.76,"y":5.1},{"x":4.92,"y":5.06},{"x":3.21,"y":4.94},{"x":2.99,"y":4.81},{"x":3.45,"y":4.85},{"x":3.86,"y":4.78},{"x":4.29,"y":4.9},{"x":2.37,"y":4.7},{"x":4.73,"y":4.73},{"x":4.51,"y":4.66},{"x":3.58,"y":4.66},{"x":1.26,"y":4.58},{"x":1.5,"y":4.59},{"x":2.49,"y":4.58},{"x":3.52,"y":4.55},{"x":5.67,"y":4.55},{"x":2.74,"y":4.5},
{"x":3.7,"y":4.42},{"x":4.24,"y":4.35},{"x":4.76,"y":4.42},{"x":5.17,"y":4.38},{"x":5.41,"y":3.96},{"x":3.87,"y":3.94},{"x":4.12,"y":3.96},{"x":4.1,"y":3.88},{"x":4.24,"y":3.85},{"x":3.7,"y":3.75},{"x":3.89,"y":3.77},{"x":4.7,"y":3.71},{"x":4.27,"y":3.65},{"x":3.55,"y":3.52},{"x":3.89,"y":3.56},{"x":3.85,"y":3.49},{"x":4.6,"y":3.46},{"x":4.54,"y":3.42},{"x":3.7,"y":3.35},{"x":4.48,"y":3.3},{"x":3.76,"y":3.22},{"x":5.01,"y":3.16},{"x":3.92,"y":3.11},{"x":3.99,"y":3.13},{"x":4.16,"y":3.04},{"x":4.51,"y":3.07},{"x":3.89,"y":2.96},{"x":3.48,"y":2.8},{"x":3.65,"y":2.8},{"x":3.91,"y":2.8},{"x":3.61,"y":2.73},{"x":4.24,"y":2.62},{"x":4.32,"y":2.6},{"x":3.92,"y":2.58},{"x":5.07,"y":2.46},{"x":5.2,"y":2.34},{"x":4.32,"y":2.31},{"x":4.58,"y":2.28},{"x":3.48,"y":2.22},{"x":3.58,"y":2.2},{"x":3.7,"y":2.18},{"x":3.55,"y":2.16},{"x":4.07,"y":2.16},{"x":3.83,"y":2.02},{"x":3.7,"y":1.78},
{"x":2.37,"y":5.11},{"x":2.74,"y":5.14},{"x":1.96,"y":4.44},{"x":1.12,"y":4.35},{"x":1.49,"y":4.34},{"x":1.76,"y":4.31},{"x":1.82,"y":4.23},{"x":1.59,"y":4.23},{"x":0.91,"y":4.19},{"x":2.16,"y":4.21},{"x":2.2,"y":4.12},{"x":2.7,"y":4.24},{"x":2.64,"y":4.12},{"x":2.16,"y":3.96},{"x":2.5,"y":3.92},{"x":1.05,"y":3.96},{"x":1.22,"y":3.96},{"x":1.42,"y":3.98},{"x":1.55,"y":3.92},{"x":1.86,"y":3.94},{"x":1.82,"y":3.87},{"x":1.05,"y":3.84},{"x":3.21,"y":3.85},{"x":1.08,"y":3.72},{"x":1.32,"y":3.81},{"x":1.45,"y":3.75},{"x":1.59,"y":3.72},{"x":2.43,"y":3.7},{"x":2.7,"y":3.77},{"x":3.01,"y":3.74},{"x":3.14,"y":3.71},{"x":1.86,"y":3.7},{"x":0.88,"y":3.59},{"x":1.05,"y":3.64},{"x":1.22,"y":3.52},{"x":1.35,"y":3.54},{"x":1.45,"y":3.52},{"x":1.69,"y":3.56},{"x":1.93,"y":3.58},{"x":2.06,"y":3.59},{"x":1.99,"y":3.49},{"x":2.23,"y":3.41},{"x":2.16,"y":3.39},{"x":2.91,"y":3.59},{"x":3.11,"y":3.59},{"x":3.72,"y":3.57},{"x":0.91,"y":3.49},{"x":1.28,"y":3.39},{"x":1.45,"y":3.44},{"x":1.08,"y":3.35},{"x":0.98,"y":3.32},{"x":0.78,"y":3.2},{"x":1.01,"y":3.28},{"x":1.62,"y":3.3},{"x":1.72,"y":3.3},{"x":1.79,"y":3.2},{"x":1.28,"y":3.22},{"x":2.23,"y":3.2},{"x":2.2,"y":3.16},{"x":2.53,"y":3.34},{"x":2.6,"y":3.31},{"x":2.74,"y":3.2},{"x":2.8,"y":3.16},{"x":3.14,"y":3.16},{"x":3.45,"y":3.37},{"x":3.24,"y":3.24},{"x":1.01,"y":3.09},{"x":1.42,"y":3.09},{"x":1.82,"y":3.09},{"x":1.99,"y":3.07},{"x":2.23,"y":3.03},{"x":2.2,"y":2.97},{"x":2.4,"y":3.07},{"x":2.57,"y":3.13},{"x":2.77,"y":3.05},{"x":0.88,"y":2.92},{"x":0.74,"y":2.99},{"x":0.58,"y":2.96},{"x":0.81,"y":2.88},{"x":1.28,"y":2.99},{"x":1.55,"y":3.03},{"x":1.42,"y":2.88},{"x":1.76,"y":2.86},{"x":1.89,"y":2.88},{"x":2.13,"y":2.84},{"x":2.23,"y":2.86},{"x":2.37,"y":2.79},{"x":2.53,"y":2.77},{"x":2.84,"y":2.88},{"x":3.18,"y":2.92},{"x":3.01,"y":2.85},{"x":3.48,"y":2.81},{"x":3.72,"y":2.83},
{"x":0.61,"y":2.73},{"x":0.85,"y":2.65},{"x":1.08,"y":2.73},{"x":1.32,"y":2.71},{"x":1.55,"y":2.75},{"x":1.72,"y":2.69},{"x":1.89,"y":2.63},{"x":1.99,"y":2.73},{"x":2.13,"y":2.65},{"x":2.3,"y":2.69},{"x":2.53,"y":2.63},{"x":2.84,"y":2.69},{"x":3.11,"y":2.65},{"x":3.38,"y":2.73},{"x":0.68,"y":2.54},{"x":0.88,"y":2.5},{"x":1.08,"y":2.5},{"x":1.28,"y":2.54},{"x":1.49,"y":2.46},{"x":2.1,"y":2.5},{"x":2.26,"y":2.54},{"x":2.5,"y":2.5},{"x":2.7,"y":2.42},{"x":2.91,"y":2.5},{"x":3.18,"y":2.48},{"x":3.45,"y":2.52},{"x":0.81,"y":2.35},{"x":1.05,"y":2.37},{"x":1.22,"y":2.33},{"x":1.42,"y":2.39},{"x":1.62,"y":2.31},{"x":1.82,"y":2.35},{"x":2.03,"y":2.37},{"x":2.23,"y":2.33},{"x":2.5,"y":2.35},{"x":2.77,"y":2.33},{"x":3.04,"y":2.35},{"x":3.31,"y":2.39},{"x":3.58,"y":2.33},{"x":1.18,"y":2.22},{"x":1.35,"y":2.14},{"x":1.55,"y":2.24},{"x":1.76,"y":2.18},{"x":1.96,"y":2.16},{"x":2.16,"y":2.22},{"x":2.37,"y":2.16},{"x":2.53,"y":2.2},{"x":2.77,"y":2.16},{"x":2.97,"y":2.22},{"x":3.18,"y":2.16},{"x":3.38,"y":2.14},{"x":3.65,"y":2.16},{"x":1.22,"y":2.01},{"x":1.42,"y":2.05},{"x":1.62,"y":1.97},{"x":1.82,"y":2.01},{"x":2.03,"y":2.05},{"x":2.23,"y":1.97},{"x":2.43,"y":2.03},{"x":2.64,"y":1.99},{"x":2.87,"y":2.05},{"x":3.04,"y":1.97},{"x":3.31,"y":2.05},{"x":3.51,"y":1.99},{"x":1.45,"y":1.87},{"x":1.66,"y":1.84},{"x":1.89,"y":1.89},{"x":2.1,"y":1.84},{"x":2.3,"y":1.89},{"x":2.5,"y":1.82},{"x":2.7,"y":1.87},{"x":2.91,"y":1.86},{"x":3.18,"y":1.89},{"x":3.72,"y":1.82},{"x":1.76,"y":1.76},{"x":2.1,"y":1.72},{"x":2.3,"y":1.7},{"x":2.47,"y":1.74},{"x":2.67,"y":1.69},{"x":2.87,"y":1.72},{"x":3.04,"y":1.69},{"x":3.31,"y":1.72},{"x":2.57,"y":1.65},{"x":2.84,"y":1.64},{"x":3.11,"y":1.63},
{"x":0.7,"y":2.62},{"x":0.75,"y":2.45},{"x":0.97,"y":2.6},{"x":1.15,"y":2.62},{"x":1.38,"y":2.62},{"x":1.0,"y":2.42},{"x":1.2,"y":2.45},{"x":1.58,"y":2.55},{"x":1.66,"y":2.42},{"x":1.27,"y":2.25},{"x":1.47,"y":2.3},{"x":1.6,"y":2.12},{"x":1.9,"y":2.25},{"x":2.0,"y":2.45},{"x":2.35,"y":2.45},{"x":2.45,"y":2.27},{"x":2.65,"y":2.26},{"x":2.9,"y":2.3},{"x":1.7,"y":2.92},{"x":2.0,"y":2.95},{"x":0.65,"y":3.1},{"x":0.7,"y":3.35},{"x":0.8,"y":3.62},{"x":0.75,"y":3.9},{"x":1.15,"y":3.15},{"x":1.5,"y":3.15},{"x":2.45,"y":2.9},{"x":2.65,"y":2.95},{"x":2.95,"y":2.6},{"x":3.3,"y":2.6},{"x":1.28,"y":1.96},{"x":1.95,"y":1.76},{"x":2.2,"y":1.8},{"x":2.65,"y":1.8},{"x":3.4,"y":1.8},{"x":3.3,"y":1.95},{"x":3.5,"y":2.3},{"x":3.6,"y":2.5},{"x":0.62,"y":3.55},{"x":0.66,"y":3.8},{"x":0.6,"y":4.1}
],
"curve":[
{"side":"L","x":-10.64,"y":1.5},{"side":"L","x":-8.31,"y":1.53},{"side":"L","x":-6.28,"y":1.54},{"side":"L","x":-4.66,"y":1.55},{"side":"L","x":-3.85,"y":1.58},{"side":"L","x":-3.04,"y":1.63},{"side":"L","x":-2.43,"y":1.67},{"side":"L","x":-1.93,"y":1.74},{"side":"L","x":-1.52,"y":1.82},{"side":"L","x":-1.22,"y":1.93},{"side":"L","x":-1.01,"y":2.08},{"side":"L","x":-0.87,"y":2.2},{"side":"L","x":-0.79,"y":2.31},{"side":"L","x":-0.71,"y":2.5},{"side":"L","x":-0.67,"y":2.65},{"side":"L","x":-0.61,"y":2.88},{"side":"L","x":-0.57,"y":3.11},{"side":"L","x":-0.51,"y":3.45},{"side":"L","x":-0.47,"y":3.79},{"side":"L","x":-0.43,"y":4.21},{"side":"L","x":-0.385,"y":5.16},{"side":"L","x":-0.365,"y":6.07},{"side":"L","x":-0.345,"y":7.375},
{"side":"R","x":0.26,"y":7.375},{"side":"R","x":0.28,"y":6.07},{"side":"R","x":0.3,"y":5.16},{"side":"R","x":0.34,"y":4.02},{"side":"R","x":0.41,"y":3.26},{"side":"R","x":0.47,"y":2.8},{"side":"R","x":0.53,"y":2.6},{"side":"R","x":0.61,"y":2.4},{"side":"R","x":0.71,"y":2.23},{"side":"R","x":0.87,"y":2.08},{"side":"R","x":1.05,"y":1.96},{"side":"R","x":1.28,"y":1.86},{"side":"R","x":1.62,"y":1.75},{"side":"R","x":2.03,"y":1.67},{"side":"R","x":2.64,"y":1.62},{"side":"R","x":3.24,"y":1.58},{"side":"R","x":3.85,"y":1.56},{"side":"R","x":5.27,"y":1.54},{"side":"R","x":6.69,"y":1.51},{"side":"R","x":8.09,"y":1.5}
],
"genes":[
{"gene":"MYH7","x":-3.75,"y":7.06,"lx":-4.87,"ly":7.06,"tx":-4.91,"ty":7.06,"grp":"WT","dot":1},
{"gene":"MYL2","x":-9.75,"y":5.53,"lx":-9.12,"ly":6.28,"tx":-8.37,"ty":6.43,"grp":"WT","dot":1},
{"gene":"KCRM","x":-2.72,"y":5.36,"lx":-5.88,"ly":6.52,"tx":-5.92,"ty":6.54,"grp":"WT","dot":1},
{"gene":"TNNI3","x":-2.09,"y":5.18,"lx":-6.61,"ly":5.53,"tx":-6.65,"ty":5.54,"grp":"WT","dot":1},
{"gene":"MYOZ2","x":-4.24,"y":4.69,"lx":-8.11,"ly":4.69,"tx":-8.15,"ty":4.69,"grp":"WT","dot":1},
{"gene":"ACADS","x":-3.28,"y":3.92,"lx":-7.22,"ly":4.2,"tx":-7.26,"ty":4.22,"grp":"WT","dot":1},
{"gene":"FHL2","x":-6.08,"y":3.41,"lx":-8.03,"ly":3.65,"tx":-8.07,"ty":3.69,"grp":"WT","dot":1},
{"gene":"DESM","x":-5.21,"y":2.65,"lx":-8.31,"ly":2.65,"tx":-8.35,"ty":2.65,"grp":"WT","dot":1},
{"gene":"FINC","x":4.32,"y":6.02,"lx":6.43,"ly":6.26,"tx":6.57,"ty":6.27,"grp":"I79N","dot":1},
{"gene":"TUBB4B","x":1.44,"y":4.47,"lx":5.78,"ly":5.08,"tx":5.84,"ty":5.08,"grp":"I79N","dot":1},
{"gene":"GLUT1","x":2.64,"y":3.6,"lx":6.24,"ly":3.87,"tx":6.28,"ty":3.87,"grp":"I79N","dot":0},
{"gene":"MYL6","x":1.8,"y":2.61,"lx":5.43,"ly":2.87,"tx":5.47,"ty":2.88,"grp":"I79N","dot":0},
{"gene":"ACTN1","x":0.99,"y":2.13,"lx":5.76,"ly":2.41,"tx":5.8,"ty":2.42,"grp":"I79N","dot":0}
],
"heads":[
{"t":"WT","x":-4.44,"y":8.0},
{"t":"I79N","x":4.05,"y":8.0}
]
},
"encoding":{
"x":{"field":"x","type":"quantitative","title":"Fold change (log₂)",
"scale":{"domain":[-10.64,8.09],"nice":false,"zero":false},
"axis":{"values":[-10,-8,-6,-4,-2,0,2,4,6,8],"grid":false,"domainColor":"#333","domainWidth":1.5,"tickColor":"#333","tickWidth":1,"tickSize":10,"labelFontSize":10,"labelColor":"#333","labelPadding":5,"labelFlush":false,"labelOverlap":false,"titleX":495,"titleY":55,"titleBaseline":"middle","titleAlign":"center","titleFontSize":34,"titleColor":"#3E78D8","titleFontWeight":"normal"}},
"y":{"field":"y","type":"quantitative","title":"P value (-log₁₀)",
"scale":{"domain":[-0.4,7.375],"nice":false,"zero":false},
"axis":{"values":[0,1,2,3,4,5,6,7],"grid":false,"domainColor":"#333","domainWidth":1.5,"tickColor":"#333","tickWidth":1,"tickSize":9,"labelFontSize":10,"labelColor":"#333","labelAngle":270,"labelAlign":"center","labelBaseline":"middle","labelPadding":16,"labelOverlap":false,"titleX":-60,"titleY":347,"titleAngle":270,"titleBaseline":"middle","titleAlign":"center","titleFontSize":35,"titleColor":"#3E78D8","titleFontWeight":"normal"}}
},
"layer":[
{"data":{"name":"ns"},"mark":{"type":"point","shape":"square","filled":false,"size":50,"stroke":"#A9A9A9","strokeWidth":1,"opacity":1}},
{"data":{"name":"wt"},"mark":{"type":"circle","size":62,"color":"#4FA0F0","opacity":1}},
{"data":{"name":"mut"},"mark":{"type":"circle","size":62,"color":"#F68B88","opacity":1}},
{"data":{"name":"curve"},"mark":{"type":"line","color":"#000000","strokeWidth":3.5,"clip":true},"encoding":{"detail":{"field":"side","type":"nominal"}}},
{"data":{"name":"genes"},"mark":{"type":"rule","color":"#555555","strokeWidth":1},"encoding":{"x":{"field":"lx","type":"quantitative"},"y":{"field":"ly","type":"quantitative"},"x2":{"field":"x"},"y2":{"field":"y"}}},
{"data":{"name":"genes"},"mark":{"type":"point","shape":"circle","size":210,"filled":true,"fill":"white","stroke":"#444444","strokeWidth":1.2,"opacity":1}},
{"data":{"name":"genes"},"transform":[{"filter":"datum.dot == 1 && datum.grp == 'WT'"}],"mark":{"type":"circle","size":62,"color":"#4FA0F0","opacity":1}},
{"data":{"name":"genes"},"transform":[{"filter":"datum.dot == 1 && datum.grp == 'I79N'"}],"mark":{"type":"circle","size":62,"color":"#F68B88","opacity":1}},
{"data":{"name":"genes"},"transform":[{"filter":"datum.grp == 'WT'"}],"mark":{"type":"text","align":"right","baseline":"middle","fontSize":17,"color":"#111111"},"encoding":{"x":{"field":"tx","type":"quantitative"},"y":{"field":"ty","type":"quantitative"},"text":{"field":"gene"}}},
{"data":{"name":"genes"},"transform":[{"filter":"datum.grp == 'I79N'"}],"mark":{"type":"text","align":"left","baseline":"middle","fontSize":17,"color":"#111111"},"encoding":{"x":{"field":"tx","type":"quantitative"},"y":{"field":"ty","type":"quantitative"},"text":{"field":"gene"}}},
{"data":{"name":"heads"},"transform":[{"filter":"datum.t == 'WT'"}],"mark":{"type":"text","fontSize":50,"fontWeight":"bold","align":"center","baseline":"middle","color":"#3E78D8","clip":false},"encoding":{"text":{"field":"t"}}},
{"data":{"name":"heads"},"transform":[{"filter":"datum.t == 'I79N'"}],"mark":{"type":"text","fontSize":50,"fontWeight":"bold","align":"center","baseline":"middle","color":"#F83A1E","clip":false},"encoding":{"text":{"field":"t"}}}
]
}
